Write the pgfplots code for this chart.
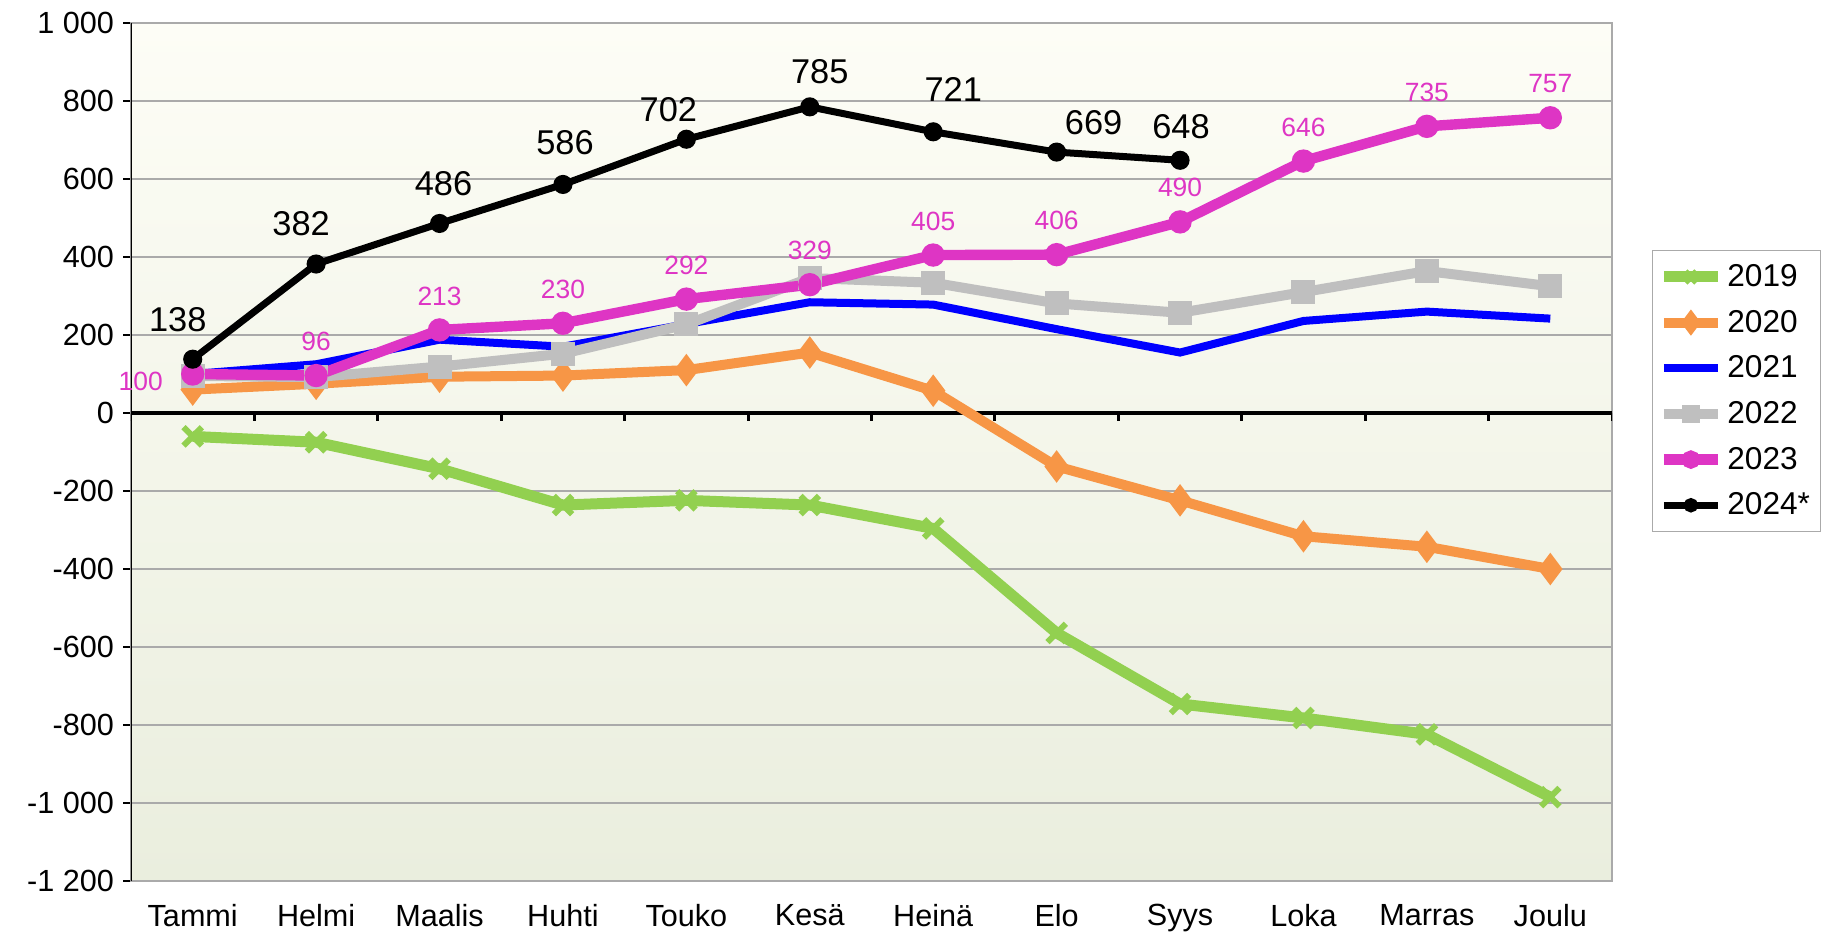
\documentclass[border=0pt]{standalone}
\usepackage{fontspec}
\setmainfont{Liberation Sans}
\usepackage{pgfplots}
\pgfplotsset{compat=1.18}

\definecolor{c19}{RGB}{146,208,80}
\definecolor{c20}{RGB}{247,150,70}
\definecolor{c21}{RGB}{0,0,255}
\definecolor{c22}{RGB}{191,191,191}
\definecolor{c23}{RGB}{222,53,196}
\definecolor{bgtop}{RGB}{253,253,246}
\definecolor{bgbot}{RGB}{234,238,222}
\definecolor{gridc}{RGB}{170,170,170}

\begin{document}
\begin{tikzpicture}
\begin{axis}[
  scale only axis, width=740.5pt, height=429pt,
  xmin=-0.5, xmax=11.5, ymin=-1200, ymax=1000,
  /pgf/number format/assume math mode=true,
  xtick={0,...,11},
  xticklabels={Tammi,Helmi,Maalis,Huhti,Touko,Kesä,Heinä,Elo,Syys,Loka,Marras,Joulu},
  x tick style={draw=none},
  xticklabel style={yshift=-4pt},
  ytick={-1200,-1000,...,1000},
  yticklabels={-1 200,-1 000,-800,-600,-400,-200,0,200,400,600,800,1 000},
  ytick pos=left, tick align=outside, major tick length=4pt,
  y tick style={black, line width=0.8pt},
  yticklabel style={xshift=-1pt},
  tick label style={font=\fontsize{15.3}{17}\selectfont},
  ymajorgrids, grid style={gridc, line width=0.8pt},
  axis line style={gridc, line width=0.8pt},
  axis background/.style={top color=bgtop, bottom color=bgbot},
  legend style={at={(rel axis cs:1,1)}, anchor=north west,
    xshift=20pt, yshift=-113.5pt, draw=gridc, fill=white,
    font=\fontsize{15.8}{18}\selectfont, row sep=6.3pt,
    inner xsep=3pt, inner ysep=5pt},
  legend cell align=left,
  legend image code/.code={
    \draw[mark repeat=2,mark phase=2,#1,every mark/.append style={scale=0.6}]
      plot coordinates {(0pt,0pt) (13.5pt,0pt) (27pt,0pt)};},
]
% frame details: black left axis, thick zero line with ticks
\draw[black, line width=1pt] (rel axis cs:0,0) -- (rel axis cs:0,1);
\addplot[black, line width=1.8pt, forget plot] coordinates {(-0.5,0) (11.5,0)};
\pgfplotsinvokeforeach{-0.5,0.5,1.5,2.5,3.5,4.5,5.5,6.5,7.5,8.5,9.5,10.5,11.5}{
  \draw[black, line width=1.5pt] (axis cs:#1,0) -- ++(0pt,-4pt);
}
\coordinate (sw) at (rel axis cs:0,0);
\coordinate (ne) at (rel axis cs:1,1);

\addplot[c19, line width=5.5pt, mark=x, mark size=6.5pt, mark options={line width=3pt}]
  coordinates {(0,-60) (1,-75) (2,-143) (3,-236) (4,-224) (5,-236)
               (6,-296) (7,-564) (8,-746) (9,-782) (10,-824) (11,-985)};
\addlegendentry{2019}
\addplot[c20, line width=5pt, mark=diamond*, mark size=4pt]
  coordinates {(0,60) (1,75) (2,93) (3,96) (4,110) (5,155)
               (6,57) (7,-137) (8,-224) (9,-316) (10,-343) (11,-400)};
\addlegendentry{2020}
\addplot[c21, line width=4pt]
  coordinates {(0,100) (1,125) (2,188) (3,170) (4,228) (5,284)
               (6,278) (7,215) (8,155) (9,236) (10,260) (11,242)};
\addlegendentry{2021}
\addplot[c22, line width=5pt, mark=square*, mark size=3.5pt]
  coordinates {(0,95) (1,92) (2,119) (3,152) (4,227) (5,346)
               (6,334) (7,281) (8,257) (9,310) (10,364) (11,325)};
\addlegendentry{2022}
\addplot[c23, line width=5.2pt, mark=*, mark size=3.2pt,
  nodes near coords, point meta=explicit,
  visualization depends on={value \thisrow{dx}\as\dx},
  visualization depends on={value \thisrow{dy}\as\dy},
  every node near coord/.append style={anchor=center, xshift=\dx pt, yshift=\dy pt,
    font=\fontsize{13.2}{15}\selectfont, text=c23}]
  table[x=x, y=y, meta=y] {
x  y    dx   dy
0  100  -26  -3.5
1  96   0    17
2  213  0    17
3  230  0    17
4  292  0    17
5  329  0    17
6  405  0    17
7  406  0    17
8  490  0    17
9  646  0    17
10 735  0    17
11 757  0    17
};
\addlegendentry{2023}
\addplot[black, line width=3.5pt, mark=*, mark size=3pt,
  nodes near coords, point meta=explicit,
  visualization depends on={value \thisrow{dx}\as\dx},
  visualization depends on={value \thisrow{dy}\as\dy},
  every node near coord/.append style={anchor=center, xshift=\dx pt, yshift=\dy pt,
    font=\fontsize{17.2}{20}\selectfont, text=black}]
  table[x=x, y=y, meta=y] {
x  y    dx    dy
0  138  -7.5  20
1  382  -7.5  20
2  486  2     20
3  586  1     21
4  702  -9    15
5  785  5     17.5
6  721  10    21
7  669  18.5  14.5
8  648  0.5   17
};
\addlegendentry{2024*}
\end{axis}
\pgfresetboundingbox
\path ([shift={(-65.5pt,-26pt)}]sw) rectangle ([shift={(106pt,11.5pt)}]ne);
\end{tikzpicture}
\end{document}
